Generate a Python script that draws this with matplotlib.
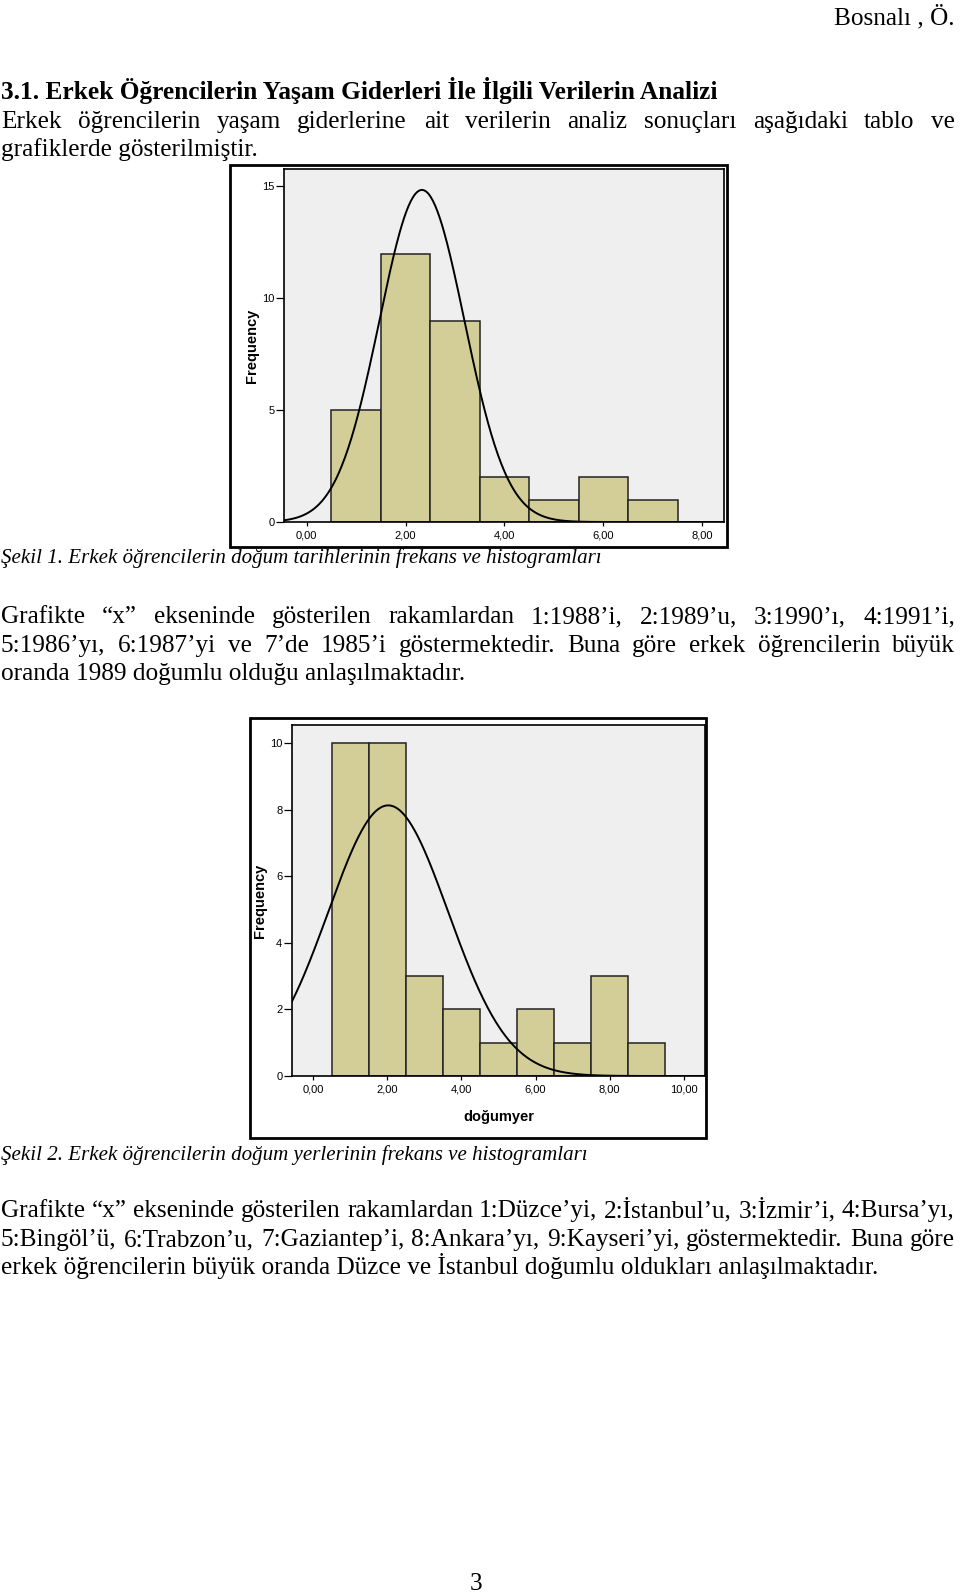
#!/usr/bin/env python3
"""
Page with two SPSS-style histograms (birth year / birth place codes)
with fitted normal curves, plus the surrounding Turkish text.
"""

import numpy as np
import matplotlib
matplotlib.use("Agg")
import matplotlib.pyplot as plt
from matplotlib.patches import Rectangle

W, H = 960, 1596

# Chart 1: birth year codes
year_codes = [1, 2, 3, 4, 5, 6, 7]
year_counts = [5, 12, 9, 2, 1, 2, 1]
year_curve_mean = 2.33
year_curve_sd = 0.86
year_xticks = [0, 2, 4, 6, 8]
year_yticks = [0, 5, 10, 15]

# Chart 2: birth place codes
place_codes = [1, 2, 3, 4, 5, 6, 7, 8, 9]
place_counts = [10, 10, 3, 2, 1, 2, 1, 3, 1]
place_curve_mean = 2.02
place_curve_sd = 1.62
place_xticks = [0, 2, 4, 6, 8, 10]
place_yticks = [0, 2, 4, 6, 8, 10]

SERIF = "Liberation Serif"
SANS = "Liberation Sans"
BAR = "#d3ce97"
BG = "#efefef"

fig = plt.figure(figsize=(W / 100, H / 100), dpi=100)
renderer = fig.canvas.get_renderer()


def px_rect(left, top, right, bottom):
    return [left / W, 1 - bottom / H, (right - left) / W, (bottom - top) / H]


def put(x, y, s, **kw):
    return fig.text(x / W, 1 - y / H, s, va="baseline", **kw)


def fit_size(s, width, **kw):
    t = fig.text(0, 0, s, fontsize=10, **kw)
    w = t.get_window_extent(renderer).width
    t.remove()
    return 10 * width / w


def justified(line, y, size, x0=1, x1=955, **kw):
    words = line.split(" ")
    texts = [put(0, y, w, fontsize=size, family=SERIF, **kw) for w in words]
    widths = [t.get_window_extent(renderer).width for t in texts]
    gap = (x1 - x0 - sum(widths)) / (len(words) - 1)
    x = x0
    for t, w in zip(texts, widths):
        t.set_x(round(x) / W)
        x += w + gap


def frame(left, top, right, bottom):
    fig.patches.append(Rectangle((left / W, 1 - bottom / H), (right - left) / W,
                                 (bottom - top) / H, transform=fig.transFigure,
                                 fill=False, edgecolor="black", linewidth=2))


def histogram(rect, codes, counts, mean, sd, xticks, yticks, xlim, ylim, xlabel=None):
    ax = fig.add_axes(rect)
    ax.set_facecolor(BG)
    ax.bar(codes, counts, width=1.0, color=BAR, edgecolor="#222222", linewidth=1.1)
    xs = np.linspace(xlim[0], xlim[1], 400)
    n = sum(counts)
    ys = n / (sd * np.sqrt(2 * np.pi)) * np.exp(-0.5 * ((xs - mean) / sd) ** 2)
    ax.plot(xs, ys, color="black", linewidth=1.4)
    ax.set_xlim(*xlim)
    ax.set_ylim(*ylim)
    ax.set_xticks(xticks)
    ax.set_xticklabels([f"{v:.2f}".replace(".", ",") for v in xticks], family=SANS)
    ax.set_yticks(yticks)
    ax.set_yticklabels([str(v) for v in yticks], family=SANS)
    ax.tick_params(axis="both", labelsize=8, length=6, width=0.9, direction="out", pad=1)
    ax.tick_params(axis="x", length=3, pad=3)
    for sp in ax.spines.values():
        sp.set_color("black")
        sp.set_linewidth(1.2)
    ax.set_ylabel("Frequency", fontsize=10.5, fontweight="bold", family=SANS, labelpad=2)
    if xlabel:
        ax.set_xlabel(xlabel, fontsize=10.5, fontweight="bold", family=SANS, labelpad=11)
    return ax


# Texts
heading = "3.1. Erkek Öğrencilerin Yaşam Giderleri İle İlgili Verilerin Analizi"
p1 = ["Erkek öğrencilerin yaşam giderlerine ait verilerin analiz sonuçları aşağıdaki tablo ve"]
p1_last = "grafiklerde gösterilmiştir."
cap1 = "Şekil 1. Erkek öğrencilerin doğum tarihlerinin frekans ve histogramları"
p2 = ["Grafikte “x” ekseninde gösterilen rakamlardan 1:1988’i, 2:1989’u, 3:1990’ı, 4:1991’i,",
      "5:1986’yı, 6:1987’yi ve 7’de 1985’i göstermektedir. Buna göre erkek öğrencilerin büyük"]
p2_last = "oranda 1989 doğumlu olduğu anlaşılmaktadır."
cap2 = "Şekil 2. Erkek öğrencilerin doğum yerlerinin frekans ve histogramları"
p3 = ["Grafikte “x” ekseninde gösterilen rakamlardan 1:Düzce’yi, 2:İstanbul’u, 3:İzmir’i, 4:Bursa’yı,",
      "5:Bingöl’ü, 6:Trabzon’u, 7:Gaziantep’i, 8:Ankara’yı, 9:Kayseri’yi, göstermektedir. Buna göre"]
p3_last = "erkek öğrencilerin büyük oranda Düzce ve İstanbul doğumlu oldukları anlaşılmaktadır."

body = fit_size(p3_last, 879, family=SERIF)
head = fit_size(heading, 722, family=SERIF, fontweight="bold")
cap = fit_size(cap1, 600, family=SERIF, style="italic")

put(955, 24, "Bosnalı , Ö.", fontsize=body, family=SERIF, ha="right")
put(1, 99, heading, fontsize=head, family=SERIF, fontweight="bold")
justified(p1[0], 128, body)
put(1, 156, p1_last, fontsize=body, family=SERIF)

put(1, 563, cap1, fontsize=cap, family=SERIF, style="italic")
justified(p2[0], 623, body)
justified(p2[1], 652, body)
put(1, 680, p2_last, fontsize=body, family=SERIF)

put(1, 1160, cap2, fontsize=cap, family=SERIF, style="italic")
justified(p3[0], 1217, body)
justified(p3[1], 1246, body)
put(1, 1274, p3_last, fontsize=body, family=SERIF)

put(476, 1590, "3", fontsize=body, family=SERIF, ha="center")

# Chart 1
frame(230, 165, 727, 547)
histogram(px_rect(284, 169, 724, 522), year_codes, year_counts,
          year_curve_mean, year_curve_sd, year_xticks, year_yticks,
          (-0.46, 8.44), (0, 15.78))

# Chart 2
frame(250, 718, 706, 1138)
histogram(px_rect(292, 725, 705, 1076), place_codes, place_counts,
          place_curve_mean, place_curve_sd, place_xticks, place_yticks,
          (-0.58, 10.58), (0, 10.54), xlabel="doğumyer")

fig.savefig("out.png", dpi=100)
